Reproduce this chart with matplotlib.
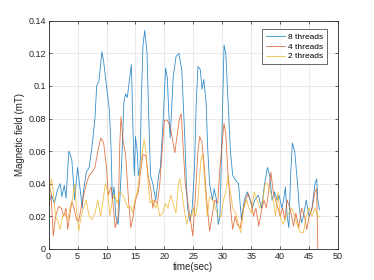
import numpy as np
import matplotlib
matplotlib.use("Agg")
import matplotlib.pyplot as plt
from matplotlib.ticker import FuncFormatter

# 8 threads (blue)
t8 = [0, 0.5, 1, 1.5, 2, 2.3, 2.7, 3, 3.5, 4, 4.5, 5, 5.5, 5.8, 6, 6.5, 7, 7.5, 8, 8.3,
      8.7, 9.2, 9.5, 10, 10.5, 10.8, 11, 11.3, 11.6, 12, 12.3, 12.7, 13, 13.3, 13.6, 14,
      14.3, 14.6, 14.8, 15, 15.3, 15.5, 15.8, 16, 16.3, 16.6, 17, 17.3, 17.6, 18, 18.5,
      19, 19.3, 19.8, 20.2, 20.5, 20.8, 21, 21.5, 22, 22.5, 23, 23.5, 23.8, 24, 24.4,
      24.8, 25.2, 25.5, 25.8, 26.2, 26.5, 26.8, 27.2, 27.5, 27.8, 28.3, 28.6, 29, 29.3,
      29.6, 30, 30.3, 30.6, 31, 31.4, 31.8, 32.3, 32.8, 33.3, 33.8, 34.3, 34.8, 35.2,
      35.6, 36.2, 36.8, 37.3, 37.8, 38.2, 38.6, 39, 39.5, 39.8, 40.3, 40.6, 40.9, 41.2,
      41.5, 41.8, 42.1, 42.5, 43, 43.3, 43.7, 44, 44.5, 45, 45.5, 46, 46.3, 46.5, 46.8]
b8 = [0.027, 0.033, 0.028, 0.036, 0.040, 0.032, 0.039, 0.031, 0.060, 0.055, 0.030, 0.050,
      0.035, 0.025, 0.035, 0.047, 0.050, 0.063, 0.080, 0.100, 0.103, 0.121, 0.115, 0.100,
      0.085, 0.060, 0.030, 0.038, 0.020, 0.015, 0.030, 0.060, 0.090, 0.095, 0.093, 0.105,
      0.113, 0.070, 0.045, 0.069, 0.060, 0.045, 0.050, 0.090, 0.125, 0.134, 0.120, 0.080,
      0.045, 0.040, 0.030, 0.045, 0.050, 0.080, 0.111, 0.105, 0.080, 0.068, 0.105, 0.118,
      0.120, 0.110, 0.070, 0.040, 0.025, 0.017, 0.025, 0.050, 0.090, 0.112, 0.110, 0.098,
      0.104, 0.090, 0.060, 0.040, 0.030, 0.037, 0.030, 0.015, 0.020, 0.080, 0.125, 0.120,
      0.090, 0.060, 0.045, 0.042, 0.040, 0.018, 0.030, 0.035, 0.030, 0.025, 0.030, 0.033,
      0.025, 0.040, 0.050, 0.045, 0.030, 0.035, 0.030, 0.033, 0.025, 0.030, 0.038, 0.020,
      0.013, 0.045, 0.065, 0.060, 0.040, 0.025, 0.016, 0.020, 0.030, 0.020, 0.025, 0.040,
      0.043, 0.030, 0.024]

# 4 threads (red)
t4 = [0, 0.4, 0.8, 1.2, 1.7, 2.2, 2.6, 3, 3.3, 3.7, 4, 4.4, 4.8, 5.2, 5.6, 6, 6.5, 7,
      7.5, 8, 8.5, 9, 9.5, 10, 10.3, 10.8, 11.2, 11.5, 12, 12.3, 12.5, 12.9, 13.3, 13.8,
      14.2, 14.6, 15, 15.5, 15.8, 16.3, 16.8, 17.2, 17.7, 18, 18.3, 18.8, 19.2, 19.6, 20,
      20.5, 21, 21.5, 21.8, 22.2, 22.6, 22.9, 23.2, 23.6, 24, 24.5, 24.9, 25.3, 25.8, 26.1,
      26.5, 26.9, 27.3, 27.8, 28.2, 28.7, 29.2, 29.6, 30.1, 30.3, 30.6, 31, 31.5, 31.8,
      32.2, 32.6, 33.1, 33.5, 34, 34.5, 35, 35.4, 35.8, 36.3, 36.8, 37.2, 37.6, 38, 38.4,
      38.8, 39.2, 39.6, 40, 40.4, 40.8, 41.2, 41.7, 42.3, 42.7, 43.2, 43.7, 44.2, 44.6,
      45, 45.5, 46, 46.3, 46.5]
b4 = [0.038, 0.035, 0.008, 0.020, 0.026, 0.025, 0.020, 0.025, 0.012, 0.022, 0.029, 0.025,
      0.018, 0.017, 0.025, 0.032, 0.040, 0.045, 0.047, 0.050, 0.060, 0.068, 0.065, 0.050,
      0.033, 0.038, 0.025, 0.013, 0.020, 0.065, 0.081, 0.065, 0.058, 0.030, 0.013, 0.020,
      0.030, 0.035, 0.045, 0.058, 0.057, 0.045, 0.035, 0.025, 0.030, 0.028, 0.040, 0.060,
      0.079, 0.079, 0.075, 0.065, 0.059, 0.070, 0.080, 0.083, 0.065, 0.040, 0.030, 0.018,
      0.008, 0.030, 0.060, 0.069, 0.065, 0.050, 0.030, 0.011, 0.020, 0.030, 0.028, 0.050,
      0.070, 0.077, 0.070, 0.045, 0.022, 0.012, 0.020, 0.015, 0.013, 0.022, 0.030, 0.034,
      0.028, 0.020, 0.025, 0.014, 0.024, 0.030, 0.025, 0.035, 0.047, 0.035, 0.030, 0.025,
      0.020, 0.025, 0.018, 0.030, 0.025, 0.014, 0.022, 0.013, 0.025, 0.020, 0.012, 0.020,
      0.025, 0.035, 0.037, 0.0]

# 2 threads (yellow)
t2 = [0, 0.3, 0.5, 0.8, 1.2, 1.6, 2, 2.4, 2.8, 3.3, 3.7, 4.1, 4.5, 4.8, 5.2, 5.6, 6, 6.5,
      7, 7.5, 8, 8.5, 9, 9.4, 9.8, 10.2, 10.6, 11, 11.4, 11.8, 12.3, 12.8, 13.2, 13.7,
      14.2, 14.5, 14.9, 15.3, 15.7, 16.2, 16.5, 16.8, 17.2, 17.5, 18, 18.5, 18.8, 19.2,
      19.7, 20.2, 20.6, 21.1, 21.5, 22, 22.4, 22.7, 23.2, 23.6, 23.9, 24.2, 24.7, 25,
      25.4, 25.8, 26.3, 26.6, 27, 27.4, 27.8, 28.3, 28.8, 29.3, 29.8, 30.2, 30.6, 31,
      31.4, 31.8, 32.3, 32.8, 33.2, 33.7, 34.2, 34.6, 35, 35.5, 36, 36.5, 37, 37.4, 37.8,
      38.3, 38.8, 39.2, 39.6, 40, 40.5, 41, 41.5, 42, 42.5, 43, 43.5, 44, 44.5, 45, 45.5,
      46, 46.5, 46.8]
b2 = [0.020, 0.040, 0.043, 0.035, 0.020, 0.017, 0.012, 0.020, 0.022, 0.018, 0.025, 0.030,
      0.040, 0.025, 0.011, 0.020, 0.025, 0.030, 0.020, 0.018, 0.022, 0.030, 0.020, 0.030,
      0.040, 0.035, 0.020, 0.030, 0.033, 0.028, 0.035, 0.033, 0.030, 0.025, 0.026, 0.022,
      0.030, 0.035, 0.045, 0.060, 0.067, 0.060, 0.040, 0.028, 0.030, 0.025, 0.028, 0.020,
      0.022, 0.028, 0.025, 0.033, 0.028, 0.022, 0.040, 0.043, 0.030, 0.020, 0.015, 0.022,
      0.020, 0.025, 0.020, 0.030, 0.055, 0.058, 0.040, 0.020, 0.032, 0.030, 0.025, 0.020,
      0.020, 0.030, 0.035, 0.045, 0.035, 0.025, 0.022, 0.015, 0.010, 0.025, 0.030, 0.025,
      0.022, 0.035, 0.030, 0.025, 0.030, 0.040, 0.040, 0.035, 0.030, 0.020, 0.035, 0.020,
      0.015, 0.020, 0.022, 0.025, 0.020, 0.014, 0.010, 0.010, 0.020, 0.025, 0.020, 0.025,
      0.020, 0.020]

plt.rcParams['font.family'] = ['Liberation Sans', 'DejaVu Sans']

fig = plt.figure(figsize=(3.74, 2.8), dpi=100)
ax = fig.add_axes([0.130, 0.111, 0.774, 0.815])

# thin, slightly washed-out lines like the MATLAB export
ax.plot(t8, b8, color='#0072BD', lw=0.6, alpha=0.8, label='8 threads')
ax.plot(t4, b4, color='#D95319', lw=0.6, alpha=0.8, label='4 threads')
ax.plot(t2, b2, color='#EDB120', lw=0.6, alpha=0.8, label='2 threads')

ax.set_xlim(0, 50)
ax.set_ylim(0, 0.14)
ax.set_xticks(np.arange(0, 51, 5))
ax.set_yticks(np.arange(0, 0.141, 0.02))
ax.yaxis.set_major_formatter(FuncFormatter(lambda v, p: f'{v:g}'))
ax.grid(True, color='#e6e6e6', lw=0.6)
ax.set_axisbelow(True)
ax.tick_params(direction='in', length=2.5, width=0.5, labelsize=6.5, colors='#262626',
               top=True, right=True, pad=2)
for s in ax.spines.values():
    s.set_linewidth(0.6)
    s.set_color('#262626')

ax.set_xlabel('time(sec)', fontsize=7, color='#262626', labelpad=1)
ax.set_ylabel('Magnetic field (mT)', fontsize=7, color='#262626', labelpad=2)

leg = ax.legend(loc='upper right', fontsize=6, frameon=True, fancybox=False,
                edgecolor='#262626', handlelength=2.3, handletextpad=0.4,
                borderpad=0.4, labelspacing=0.25, bbox_to_anchor=(0.975, 0.98))
leg.get_frame().set_linewidth(0.6)

fig.savefig('out.png', dpi=100, facecolor='white')
